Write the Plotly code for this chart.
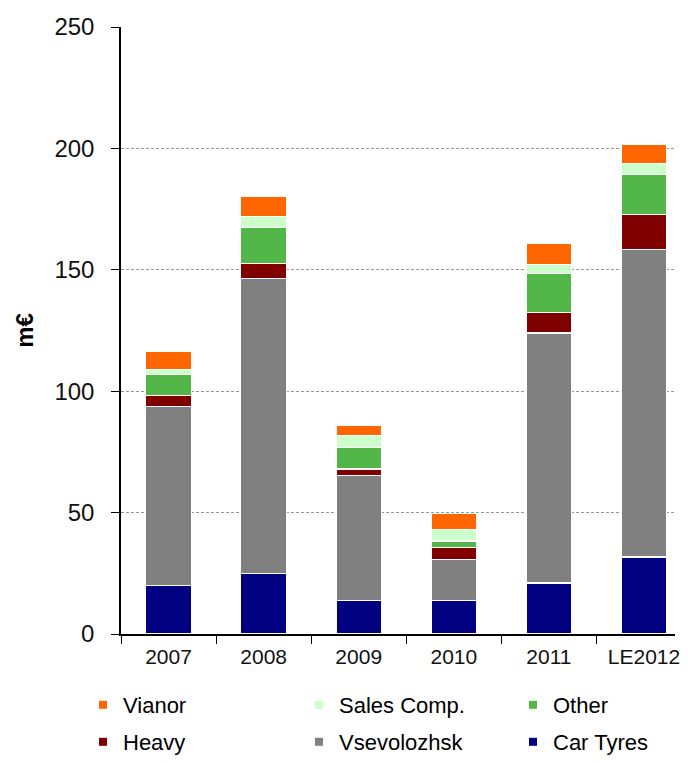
import plotly.graph_objects as go

years = ["2007", "2008", "2009", "2010", "2011", "LE2012"]

car_tyres = [20.0, 25.0, 13.8, 13.8, 21.0, 31.7]
vsevolozhsk = [73.8, 121.5, 51.4, 16.9, 103.0, 126.5]
heavy = [4.4, 6.0, 2.8, 4.9, 8.4, 14.5]
other = [8.6, 15.0, 8.9, 2.7, 16.2, 16.7]
sales_comp = [2.1, 4.6, 5.0, 4.7, 3.5, 4.4]
vianor = [7.5, 8.3, 4.0, 6.5, 8.7, 8.0]

# name, values, colour, legend id, legend column, legend row
series = [
    ("Car Tyres", car_tyres, "#000080", "legend6", 2, 1),
    ("Vsevolozhsk", vsevolozhsk, "#808080", "legend5", 1, 1),
    ("Heavy", heavy, "#800000", "legend4", 0, 1),
    ("Other", other, "#52B648", "legend3", 2, 0),
    ("Sales Comp.", sales_comp, "#CCFFCC", "legend2", 1, 0),
    ("Vianor", vianor, "#FF6600", "legend", 0, 0),
]

font = "Liberation Sans, Arial, sans-serif"
W, H = 672, 747
col_x = [75, 291, 505]
row_y = [697, 734]

fig = go.Figure()
legends = {}
for name, vals, color, leg, col, row in series:
    fig.add_trace(
        go.Bar(
            x=years,
            y=vals,
            name=name,
            width=0.48,
            legendgroup=name,
            showlegend=False,
            marker=dict(color=color, line=dict(color="white", width=1.2)),
        )
    )
    # small square swatch for the legend
    fig.add_trace(
        go.Scatter(
            x=[None],
            y=[None],
            mode="markers",
            name=name,
            legendgroup=name,
            legend=leg,
            marker=dict(symbol="square", size=8, color=color),
        )
    )
    legends[leg] = dict(
        orientation="h",
        xref="container",
        yref="container",
        x=col_x[col] / W,
        y=1 - row_y[row] / H,
        xanchor="left",
        yanchor="middle",
        font=dict(size=22, family=font, color="black"),
        bgcolor="rgba(0,0,0,0)",
    )

fig.update_layout(
    width=W,
    height=H,
    barmode="stack",
    plot_bgcolor="white",
    paper_bgcolor="white",
    margin=dict(l=112.7, r=0, t=19, b=121),
    font=dict(family=font, color="black"),
    showlegend=True,
    **legends,
)

fig.update_xaxes(
    range=[-0.5, 5.326],
    showline=True,
    linecolor="black",
    linewidth=1.5,
    ticks="outside",
    tickson="boundaries",
    ticklen=8,
    tickcolor="black",
    tickfont=dict(size=21, family=font, color="#111111"),
    ticklabelstandoff=3,
    showgrid=False,
)

fig.update_yaxes(
    range=[0, 250],
    dtick=50,
    showline=True,
    linecolor="black",
    linewidth=1.5,
    ticks="outside",
    ticklen=8,
    tickcolor="black",
    tickfont=dict(size=24, family=font, color="#111111"),
    ticklabelstandoff=12,
    showgrid=True,
    gridcolor="#999999",
    griddash="3px,2px",
    gridwidth=1,
    zeroline=False,
    title=dict(text="<b>m€</b>", font=dict(size=24, family=font), standoff=14),
)

fig.write_html("out.html")
